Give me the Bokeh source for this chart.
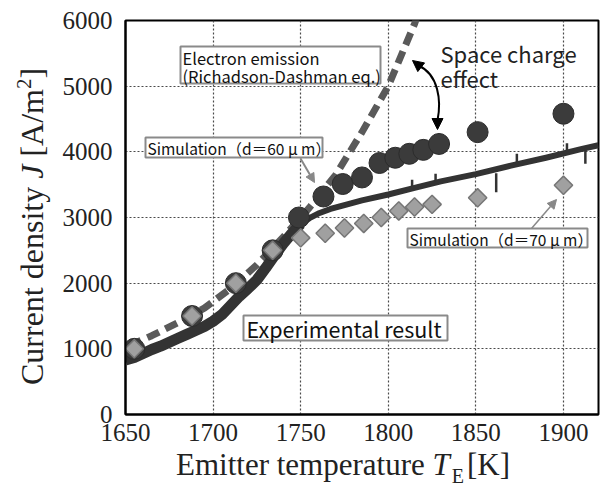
from math import pi
from bokeh.plotting import figure
from bokeh.layouts import row, column
from bokeh.models import (Range1d, FixedTicker, Label, Arrow, NormalHead,
                          BoxAnnotation, Div)
from bokeh.embed import file_html
from bokeh.resources import INLINE

# ---------------- data ----------------
x_ticks = [1650, 1700, 1750, 1800, 1850, 1900]
y_ticks = [0, 1000, 2000, 3000, 4000, 5000, 6000]

# Experimental result (thick measured curve)
exp_T = [1650, 1655, 1660, 1665, 1670, 1675, 1680, 1685, 1690, 1695, 1700,
         1705, 1710, 1715, 1720, 1725, 1730, 1735, 1740, 1745, 1750,
         1755, 1760, 1767, 1775, 1785, 1800, 1815, 1830, 1850, 1870,
         1890, 1910, 1920]
exp_J = [830, 870, 930, 990, 1040, 1100, 1160, 1220, 1280, 1340, 1420,
         1520, 1660, 1800, 1920, 2050, 2230, 2420, 2600, 2760, 2900,
         2990, 3060, 3130, 3190, 3260, 3350, 3450, 3550, 3660, 3790,
         3910, 4040, 4100]
# noise spikes on the measured curve (temperature, curve value, spike tip)
spike_T = [1813.6, 1827, 1861.6, 1873.4, 1902, 1912.5]
spike_base = [3470, 3550, 3675, 3807, 4010, 4071]
spike_tip = [3574, 3665, 3385, 3970, 4132, 3817]

# Electron emission (Richardson-Dushman eq.)
rd_T = [1652, 1665, 1680, 1695, 1710, 1725, 1740, 1755, 1770, 1785, 1800, 1815, 1817]
rd_J = [1050, 1200, 1400, 1620, 1920, 2280, 2700, 3150, 3650, 4300, 5000, 5950, 6100]

# Simulation d = 60 um (circles)
sim60_T = [1655, 1688, 1713, 1734, 1749, 1763, 1774, 1785, 1795, 1804, 1812, 1820, 1829, 1851, 1900]
sim60_J = [1000, 1500, 2000, 2500, 3000, 3320, 3510, 3610, 3830, 3910, 3970, 4030, 4120, 4300, 4580]

# Simulation d = 70 um (diamonds)
sim70_T = [1655, 1688, 1713, 1734, 1750, 1764, 1775, 1786, 1796, 1806, 1815, 1825, 1851, 1900]
sim70_J = [1000, 1500, 2000, 2500, 2690, 2760, 2840, 2910, 3000, 3100, 3160, 3200, 3300, 3490]

# ---------------- layout geometry (page pixels) ----------------
X0, X1 = 1650, 1920
Y0, Y1 = 0, 6000
YDIV_W = 58                      # column holding the y title
PW, PH = 542, 454                # figure size
XDIV_H = 32                      # strip holding the x title
F_LEFT, F_RIGHT, F_TOP, F_BOTTOM = 125, 598, 20, 414   # frame edges on the page

p = figure(width=PW, height=PH, x_range=Range1d(X0, X1), y_range=Range1d(Y0, Y1),
           output_backend="svg", toolbar_location=None,
           min_border_left=F_LEFT - YDIV_W, min_border_top=F_TOP,
           min_border_right=YDIV_W + PW - F_RIGHT, min_border_bottom=PH - F_BOTTOM)


def dx(page_x):
    return X0 + (page_x - F_LEFT) * (X1 - X0) / (F_RIGHT - F_LEFT)


def dy(page_y):
    return Y0 + (F_BOTTOM - page_y) * (Y1 - Y0) / (F_BOTTOM - F_TOP)


p.background_fill_color = "white"
p.border_fill_color = "white"
p.outline_line_color = "black"
p.outline_line_width = 2

for ax, ticks, standoff in ((p.xaxis, x_ticks, 9), (p.yaxis, y_ticks, 13)):
    ax.ticker = FixedTicker(ticks=ticks)
    ax.major_label_text_font = "Liberation Serif"
    ax.major_label_text_font_size = "25px"
    ax.major_label_text_color = "#222222"
    ax.major_tick_in = 0
    ax.major_tick_out = 0
    ax.minor_tick_in = 0
    ax.minor_tick_out = 0
    ax.axis_line_color = "black"
    ax.axis_line_width = 2
    ax.major_label_standoff = standoff

p.xgrid.ticker = FixedTicker(ticks=x_ticks)
p.ygrid.ticker = FixedTicker(ticks=y_ticks)
for g in (p.xgrid, p.ygrid):
    g.grid_line_color = "#4a4a4a"
    g.grid_line_dash = "2 2"
    g.grid_line_width = 1.2

# ---------------- marks ----------------
p.line(rd_T, rd_J, line_color="#5a5a5a", line_width=7, line_dash="13 7")

k = exp_T.index(1750)
p.line(exp_T[:k + 1], exp_J[:k + 1], line_color="#333333", line_width=11, line_join="round")
p.line(exp_T[k:], exp_J[k:], line_color="#333333", line_width=6, line_join="round")
p.segment(x0=spike_T, y0=spike_base, x1=spike_T, y1=spike_tip,
          line_color="#333333", line_width=2.5)

p.scatter(sim60_T, sim60_J, marker="circle", size=21,
          fill_color="#3b3b3b", line_color="#2c2c2c", line_width=1)
p.scatter(sim70_T, sim70_J, marker="square", angle=pi / 4, size=13,
          fill_color="#a0a0a0", line_color="#767676", line_width=1.5)

# ---------------- annotations ----------------
box_font = "Noto Sans CJK JP"


def frame_box(l, r, t, b):
    p.add_layout(BoxAnnotation(left=dx(l), right=dx(r), top=dy(t), bottom=dy(b),
                               fill_color="white", fill_alpha=1.0,
                               line_color="#8a8a8a", line_width=2, line_alpha=1.0))


def text_line(tx, ty, text, size, color="#111111"):
    p.add_layout(Label(x=dx(tx), y=dy(ty), text=text, text_font=box_font,
                       text_font_size=size, text_color=color,
                       text_align="left", text_baseline="middle"))


frame_box(180, 380, 46, 83)
text_line(182, 57.5, "Electron emission", "16.5px")
text_line(182, 75, "(Richadson-Dashman eq.)", "16.5px")

frame_box(145, 322, 137, 157)
text_line(147, 147.5, "Simulation（d＝60 μ m）", "15.5px")

frame_box(407, 587, 228, 247)
text_line(409, 238, "Simulation（d＝70 μ m）", "15.5px")

frame_box(243, 447, 315, 340)
text_line(246, 328, "Experimental result", "21.5px")

text_line(440, 52, "Space charge", "22px", "#222222")
text_line(440, 77, "effect", "22px", "#222222")

# gray pointer arrows
p.add_layout(Arrow(end=NormalHead(size=9, fill_color="#888888", line_color="#888888"),
                   x_start=dx(300), y_start=dy(158), x_end=dx(314), y_end=dy(182),
                   line_color="#888888", line_width=2))
p.add_layout(Arrow(end=NormalHead(size=9, fill_color="#888888", line_color="#888888"),
                   x_start=dx(531), y_start=dy(228), x_end=dx(556), y_end=dy(199),
                   line_color="#888888", line_width=1.5))

# black curved double arrow (space charge effect)
p.bezier(x0=[dx(418)], y0=[dy(65)], x1=[dx(437)], y1=[dy(120)],
         cx0=[dx(438)], cy0=[dy(74)], cx1=[dx(441)], cy1=[dy(100)],
         line_color="black", line_width=2)
p.add_layout(Arrow(end=NormalHead(size=11, fill_color="black", line_color="black"),
                   x_start=dx(421), y_start=dy(67), x_end=dx(412), y_end=dy(60),
                   line_color="black", line_width=2))
p.add_layout(Arrow(end=NormalHead(size=11, fill_color="black", line_color="black"),
                   x_start=dx(437), y_start=dy(118), x_end=dx(437), y_end=dy(129),
                   line_color="black", line_width=2))

# ---------------- axis titles (mixed italic / sub / superscript) ----------------
serif = "font-family:'Liberation Serif',serif;color:#222222;line-height:1;white-space:nowrap;"

y_title = (
    f'<div style="position:relative;width:{YDIV_W}px;height:{PH + XDIV_H}px;">'
    f'<div style="position:absolute;left:16px;top:385px;transform-origin:0 0;'
    f'transform:rotate(-90deg);font-size:32px;{serif}">'
    'Current density <i>J</i> [A/m'
    '<span style="font-size:21px;position:relative;top:-12px;">2</span>]'
    '</div></div>'
)
x_title = (
    f'<div style="position:relative;width:{PW}px;height:{XDIV_H}px;">'
    f'<div style="position:absolute;left:{176 - YDIV_W}px;top:-5px;font-size:31px;{serif}">'
    'Emitter temperature <i>T</i>'
    '<span style="font-size:20px;position:relative;top:8px;margin-left:2px;margin-right:3px;">E</span>[K]'
    '</div></div>'
)

ydiv = Div(text=y_title, width=YDIV_W, height=PH + XDIV_H, margin=0)
xdiv = Div(text=x_title, width=PW, height=XDIV_H, margin=0)

layout = row(ydiv, column(p, xdiv, spacing=0), spacing=0)

open("out.html", "w").write(file_html(layout, INLINE))
